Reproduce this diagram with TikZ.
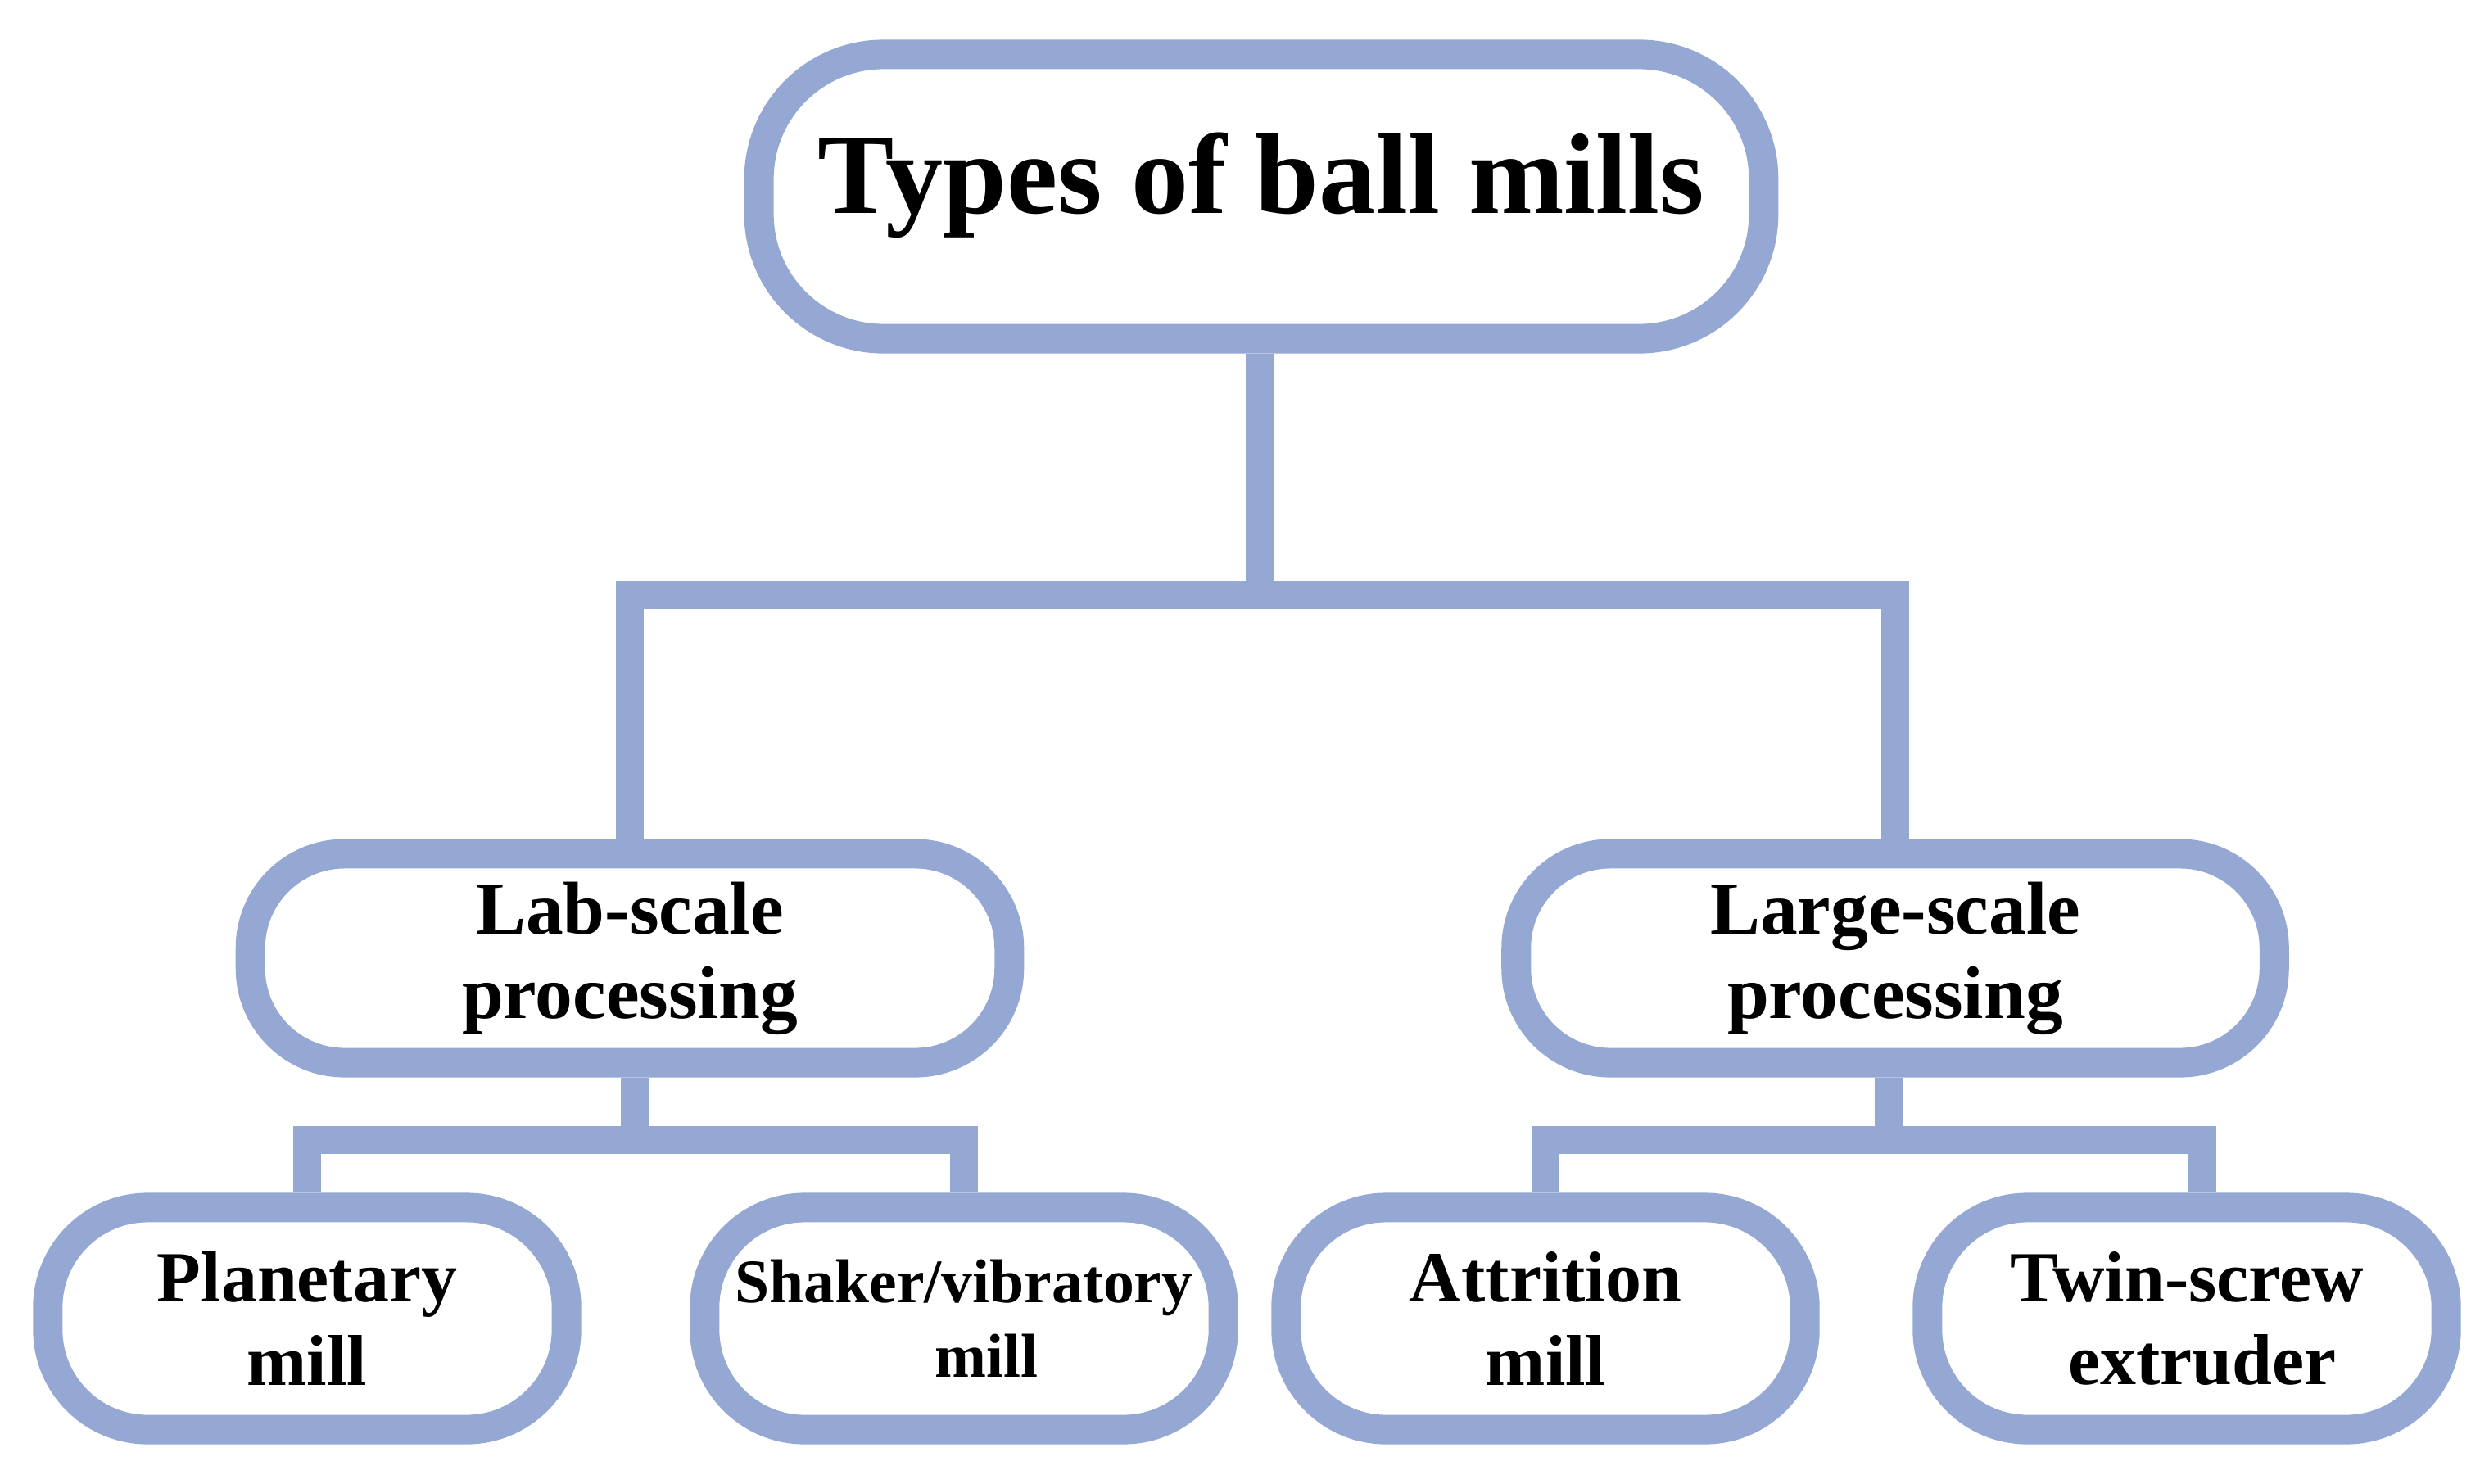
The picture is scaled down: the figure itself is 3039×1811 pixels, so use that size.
\documentclass[tikz,border=0pt]{standalone}
\usepackage{fontspec}
\setmainfont{Liberation Serif}
\definecolor{boxblue}{RGB}{148,168,211}
\begin{document}
\begin{tikzpicture}[x=0.01cm, y=-0.01cm,
  mbox/.style={draw=boxblue, line width=0.36cm, fill=white, rectangle, align=center, inner sep=0pt,
    font=\bfseries\fontsize{26pt}{29.3pt}\selectfont},
  lowbox/.style={mbox, minimum width=6.33cm, minimum height=2.71cm, rounded corners=1.22cm,
    font=\bfseries\fontsize{25pt}{29pt}\selectfont},
  midbox/.style={mbox, minimum width=9.26cm, minimum height=2.55cm, rounded corners=1.15cm},
  conn/.style={draw=boxblue, line width=0.34cm, line join=miter}]
\useasboundingbox[fill=white] (0,0) rectangle (3039,1811);

% nodes
\node[mbox, minimum width=12.26cm, minimum height=3.47cm, rounded corners=1.52cm,
  font=\bfseries\fontsize{39.8pt}{44pt}\selectfont, text height=0.70cm, text depth=0.30cm]
  (top) at (1540,240) {Types of ball mills};
\node[midbox] (lab) at (769,1170) {Lab-scale\\processing};
\node[midbox, minimum width=9.25cm] (large) at (2314,1170) {Large-scale\\processing};
\node[lowbox] (plan) at (375,1610) {Planetary\\mill};
\node[lowbox, font=\bfseries\fontsize{21.5pt}{26pt}\selectfont] (shak) at (1177,1610) {Shaker/vibratory\\\hspace*{0.54cm}mill};
\node[lowbox] (attr) at (1887,1610) {Attrition\\mill};
\node[lowbox] (twin) at (2670,1610) {Twin-screw\\\hspace*{0.38cm}extruder};

% connectors
\coordinate (b1) at (1538,727);
\draw[conn] (top.south -| b1) -- (b1);
\draw[conn] (lab.north) |- (b1) -| (large.north);

\coordinate (b2) at (775,1392);
\draw[conn] (lab.south -| b2) -- (b2);
\draw[conn] (plan.north) |- (b2) -| (shak.north);

\coordinate (b3) at (2306,1392);
\coordinate (t3) at (2689,1392);
\draw[conn] (large.south -| b3) -- (b3);
\draw[conn] (attr.north) |- (t3) -- (t3 |- twin.north);
\end{tikzpicture}
\end{document}
